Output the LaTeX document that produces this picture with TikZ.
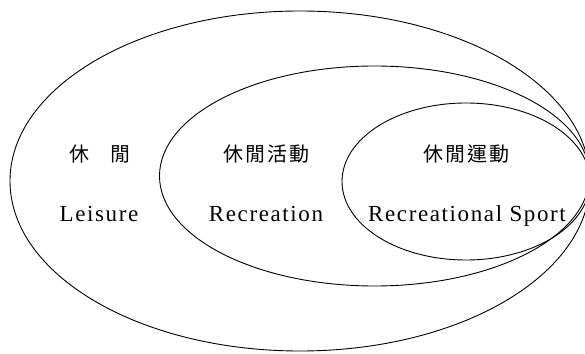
\documentclass[tikz,border=0pt]{standalone}
\usepackage{fontspec}
\setmainfont{Liberation Serif}
\newfontfamily\spaced[LetterSpace=7]{Liberation Serif}
\newfontfamily\cjk{Noto Sans CJK TC}
\begin{document}
\begin{tikzpicture}[x=1pt,y=1pt,
  ring/.style={draw=black,line width=0.9pt},
  entext/.style={inner sep=0pt,anchor=base,font=\spaced\fontsize{23}{23}\selectfont},
  cntext/.style={inner sep=0pt,font=\cjk\fontsize{20}{20}\selectfont}]
\useasboundingbox (0,0) rectangle (585,353);
\clip (0,0) rectangle (585,353);
\fill[white] (0,0) rectangle (585,353);
\draw[ring] (300,172) ellipse [x radius=290, y radius=170];
\draw[ring] (374.5,177) ellipse [x radius=215, y radius=110];
\draw[ring] (466,171.5) ellipse [x radius=124, y radius=78.5];
\node[cntext] (leisurecn) at (100,199) {休\hspace{21pt}閒};
\node[entext] (leisure) at (99,131) {Leisure};
\node[cntext] (reccn) at (266,199) {休\hspace{2pt}閒\hspace{2pt}活\hspace{2pt}動};
\node[entext] (rec) at (266,131) {Recreation};
\node[cntext] (sportcn) at (466,199) {休\hspace{2pt}閒\hspace{2pt}運\hspace{2pt}動};
\node[entext] (sport) at (467,131) {Recreational Sport};
\end{tikzpicture}
\end{document}
